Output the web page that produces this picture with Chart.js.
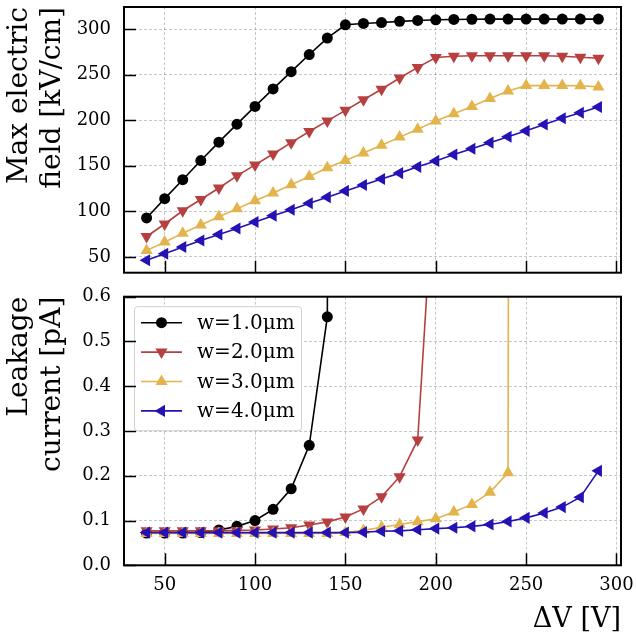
<!DOCTYPE html>
<html><head><meta charset="utf-8">
<script src="https://cdn.jsdelivr.net/npm/chart.js@4.4.1/dist/chart.umd.min.js"></script>
<style>
html,body{margin:0;padding:0;background:#fff;}
#wrap{position:relative;width:636px;height:637px;overflow:hidden;}
canvas{position:absolute;left:0;}
</style></head><body>
<div id="wrap">
<canvas id="topChart" width="636" height="285" style="top:0"></canvas>
<canvas id="botChart" width="636" height="352" style="top:285px"></canvas>
</div>
<script>
// ---- data ----
const voltages = [40,50,60,70,80,90,100,110,120,130,140,150,160,170,180,190,200,210,220,230,240,250,260,270,280,290];
const seriesNames = ['w=1.0\u03bcm','w=2.0\u03bcm','w=3.0\u03bcm','w=4.0\u03bcm'];
const fieldW1 = [92.8,114,134.8,155.8,176,195.7,215.2,234.4,253.3,272.1,290.2,304.7,306.2,307.2,308.5,309.5,310.2,310.6,310.8,311,311,311,311,311,311,311];
const fieldW2 = [72.5,86.2,100.7,113,125.7,139,151,163,175.4,187.7,199.3,210.9,222.5,234,246.4,258,268.8,270.3,270.7,270.7,270.7,270.7,270.7,270.3,269.2,268.1];
const fieldW3 = [57.2,66.3,76,85.1,94.2,102.9,111.6,120.3,129.3,138.4,147.8,155.8,164.1,172.5,181.5,190.2,199.3,207.2,215.2,223.9,232.2,238,238,238,237.8,236.6];
const fieldW4 = [46.4,53.6,60.9,68.1,74.6,81.2,88.4,95.3,101.8,109,115.6,122.5,129,135.5,142,148.9,155.4,162.3,168.8,175.4,181.9,188.4,195.3,202.2,208.3,214.5];
// leakage: values listed from 40 V onward; the last value of W1..W3 is the breakdown point far off scale
const leakW1 = [0.072,0.072,0.072,0.073,0.079,0.087,0.100,0.125,0.171,0.268,0.555,10];
const leakW2 = [0.077,0.077,0.077,0.077,0.077,0.078,0.079,0.081,0.084,0.090,0.097,0.108,0.126,0.153,0.198,0.280,0.93];
const leakW3 = [0.071,0.071,0.071,0.071,0.071,0.071,0.071,0.071,0.071,0.071,0.071,0.073,0.078,0.085,0.091,0.0975,0.104,0.119,0.136,0.163,0.207,20];
const leakW4 = [0.073,0.073,0.073,0.073,0.073,0.073,0.073,0.073,0.073,0.073,0.073,0.073,0.074,0.076,0.077,0.0795,0.082,0.084,0.087,0.091,0.098,0.106,0.117,0.130,0.152,0.211];
const xTicks = [50,100,150,200,250,300];
const fieldTicks = [50,100,150,200,250,300];
const leakTicks = [0.0,0.1,0.2,0.3,0.4,0.5,0.6];

// ---- style ----
const FONT = "'DejaVu Serif', serif";
const colors = ['#000000','#b5403f','#e3b44c','#2412b5'];
const markers = [
  {style:'circle', rot:0, r:5.5},
  {style:'triangle', rot:180, r:7},
  {style:'triangle', rot:0, r:7},
  {style:'triangle', rot:-90, r:7}
];

function pts(ys){ return ys.map((y,i)=>({x:voltages[i], y:y})); }
function makeDatasets(arrs){
  return arrs.map((a,i)=>({
    label: seriesNames[i],
    data: pts(a),
    borderColor: colors[i],
    backgroundColor: colors[i],
    borderWidth: 1.6,
    pointStyle: markers[i].style,
    rotation: markers[i].rot,
    pointRadius: markers[i].r,
    pointBorderWidth: 0,
    pointHoverRadius: markers[i].r,
    tension: 0,
    order: 4 - i
  }));
}

function drawMarker(ctx, m, x, y, color){
  ctx.save();
  ctx.fillStyle = color;
  ctx.beginPath();
  if (m.style === 'circle') {
    ctx.arc(x, y, m.r, 0, Math.PI*2);
  } else {
    let rad = m.rot*Math.PI/180;
    for (let k=0;k<3;k++){
      const px = x + Math.sin(rad)*m.r, py = y - Math.cos(rad)*m.r;
      if (k===0) ctx.moveTo(px,py); else ctx.lineTo(px,py);
      rad += 2*Math.PI/3;
    }
    ctx.closePath();
  }
  ctx.fill();
  ctx.restore();
}

const frameTicks = {
  id: 'frameTicks',
  afterDraw(chart){
    const {ctx, chartArea:a, scales} = chart;
    ctx.save();
    ctx.strokeStyle = '#000';
    ctx.lineWidth = 1.5;
    ctx.beginPath();
    scales.x.ticks.forEach(t=>{
      const px = Math.round(scales.x.getPixelForValue(t.value))+0.5;
      ctx.moveTo(px, a.bottom); ctx.lineTo(px, a.bottom-12);
    });
    scales.y.ticks.forEach(t=>{
      const py = Math.round(scales.y.getPixelForValue(t.value))+0.5;
      ctx.moveTo(a.left, py); ctx.lineTo(a.left+12, py);
    });
    ctx.stroke();
    ctx.lineWidth = 2;
    ctx.strokeRect(a.left, a.top, a.right-a.left, a.bottom-a.top);
    ctx.restore();
  }
};

const insideLegend = {
  id: 'insideLegend',
  afterDatasetsDraw(chart, args, opts){
    if (!opts || !opts.show) return;
    const {ctx, chartArea:a} = chart;
    const bx = a.left + 10, by = a.top + 9.5, bw = 167, bh = 124;
    ctx.save();
    ctx.fillStyle = 'rgba(255,255,255,0.9)';
    ctx.strokeStyle = '#d0d0d0';
    ctx.lineWidth = 1;
    ctx.beginPath();
    if (ctx.roundRect) ctx.roundRect(bx+0.5, by+0.5, bw, bh, 3); else ctx.rect(bx+0.5, by+0.5, bw, bh);
    ctx.fill(); ctx.stroke();
    chart.data.datasets.forEach((ds,i)=>{
      const y = by + 16.5 + i*29.4;
      ctx.strokeStyle = colors[i];
      ctx.lineWidth = 1.6;
      ctx.beginPath(); ctx.moveTo(bx+7, y); ctx.lineTo(bx+48, y); ctx.stroke();
      drawMarker(ctx, markers[i], bx+27.5, y, colors[i]);
      ctx.fillStyle = '#000';
      ctx.font = '20px ' + FONT;
      ctx.textBaseline = 'middle';
      ctx.textAlign = 'left';
      ctx.fillText(ds.label, bx+63, y+1);
    });
    ctx.restore();
  }
};

function setTicks(arr){ return function(scale){ scale.ticks = arr.map(v=>({value:v})); }; }
function zeroPad(s){ s.paddingTop = 0; s.paddingBottom = 0; s.paddingLeft = 0; s.paddingRight = 0; }

function baseOptions(cfg){
  return {
    responsive: false,
    animation: false,
    events: [],
    layout: { padding: { left: 0, right: 15, top: cfg.padTop, bottom: 0 } },
    plugins: { legend: {display:false}, tooltip: {enabled:false}, insideLegend: {show: cfg.legend} },
    scales: {
      x: {
        type: 'linear', min: 27.5, max: 302.5,
        afterBuildTicks: setTicks(xTicks),
        afterFit: s => { s.height = cfg.xHeight; zeroPad(s); },
        grid: { color: 'rgba(0,0,0,0.28)', lineWidth: 0.8, drawTicks: false },
        border: { display: false, dash: [3,2] },
        ticks: { display: cfg.xLabels, color: '#000', font: {family: FONT, size: 18}, padding: 9, maxRotation: 0,
                 callback: v => String(v) },
        title: { display: cfg.xLabels, text: '\u0394V [V]', align: 'end', color: '#000',
                 font: {family: FONT, size: 27}, padding: {top: 0, bottom: 1} }
      },
      y: {
        type: 'linear', min: cfg.yMin, max: cfg.yMax,
        afterBuildTicks: setTicks(cfg.yTicks),
        afterFit: s => { s.width = 124; zeroPad(s); },
        grid: { color: 'rgba(0,0,0,0.28)', lineWidth: 0.8, drawTicks: false },
        border: { display: false, dash: [3,2] },
        ticks: { color: '#000', font: {family: FONT, size: 18}, padding: 13, callback: cfg.yFmt },
        title: { display: true, text: cfg.yTitle, align: 'end', color: '#000',
                 font: {family: FONT, size: 28, lineHeight: 1.18}, padding: {top: 3, bottom: 0} }
      }
    }
  };
}

new Chart(document.getElementById('topChart'), {
  type: 'line',
  data: { datasets: makeDatasets([fieldW1, fieldW2, fieldW3, fieldW4]) },
  options: baseOptions({padTop: 4, xHeight: 12.3, xLabels: false, yMin: 32.75, yMax: 324.25,
    yTicks: fieldTicks, yFmt: v => String(v), yTitle: ['Max electric', 'field [kV/cm]'], legend: false}),
  plugins: [frameTicks, insideLegend]
});

new Chart(document.getElementById('botChart'), {
  type: 'line',
  data: { datasets: makeDatasets([leakW1, leakW2, leakW3, leakW4]) },
  options: baseOptions({padTop: 11.7, xHeight: 71.7, xLabels: true, yMin: 0, yMax: 0.6,
    yTicks: leakTicks, yFmt: v => v.toFixed(1), yTitle: ['Leakage', 'current [pA]'], legend: true}),
  plugins: [frameTicks, insideLegend]
});
</script>
</body></html>
